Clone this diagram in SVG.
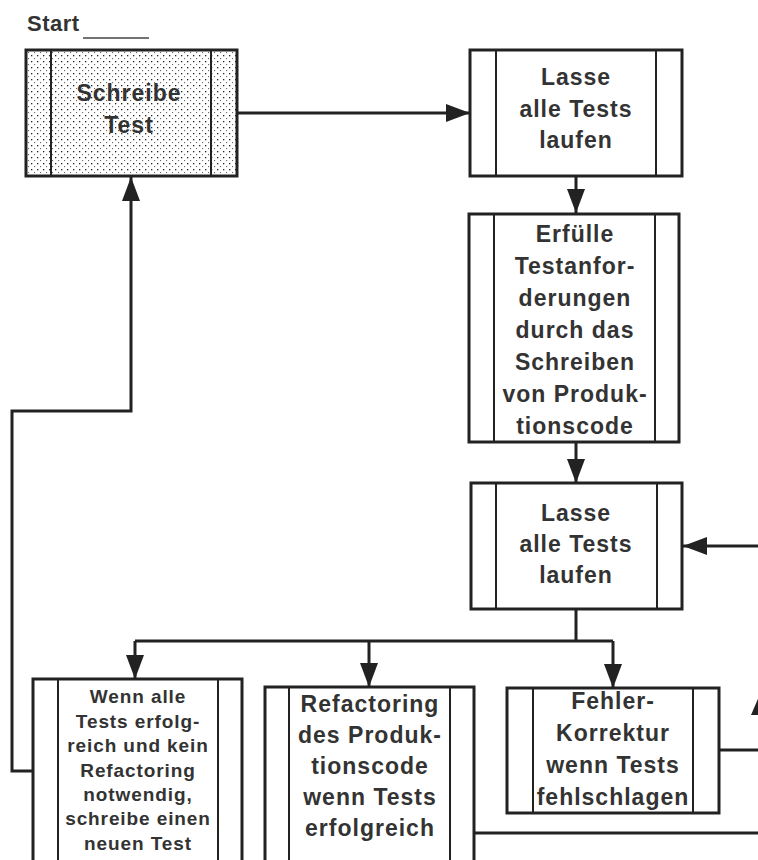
<svg xmlns="http://www.w3.org/2000/svg" width="758" height="860" viewBox="0 0 758 860">
<style>
.box{fill:#fff;stroke:#222;stroke-width:3}
.inner{stroke:#222;stroke-width:2}
.t{font-family:"Liberation Sans",Arial,sans-serif;font-weight:bold;fill:#333;text-anchor:middle;font-size:23px;letter-spacing:1px}
.s{font-size:19px;letter-spacing:0.9px}
.c{fill:none;stroke:#222;stroke-width:3}
</style>
<defs>
<pattern id="dots" width="6" height="6" patternUnits="userSpaceOnUse">
<rect width="6" height="6" fill="#fff"/>
<rect x="1" y="1" width="1.3" height="1.3" fill="#222"/>
<rect x="4" y="4" width="1.1" height="1.1" fill="#666"/>
</pattern>
<marker id="ah" markerUnits="userSpaceOnUse" markerWidth="24" markerHeight="18" refX="24" refY="9" orient="auto">
<path d="M0,0 L24,9 L0,18 z" fill="#222"/>
</marker>
</defs>
<g id="start-label">
<text x="27" y="31" style="font-family:'Liberation Sans',Arial,sans-serif;font-weight:bold;font-size:22px;fill:#333;letter-spacing:0.5px">Start</text>
<line x1="83" y1="38" x2="149" y2="38" stroke="#444" stroke-width="1.5"/>
</g>
<g id="connectors">
<path class="c" d="M237,113 H470" marker-end="url(#ah)"/>
<path class="c" d="M576,176 V213" marker-end="url(#ah)"/>
<path class="c" d="M576,442 V483" marker-end="url(#ah)"/>
<path class="c" d="M760,546 H683" marker-end="url(#ah)"/>
<path class="c" d="M576,609 V641"/>
<path class="c" d="M135,641 H613"/>
<path class="c" d="M135,641 V679" marker-end="url(#ah)"/>
<path class="c" d="M369,641 V687" marker-end="url(#ah)"/>
<path class="c" d="M613,641 V688" marker-end="url(#ah)"/>
<path class="c" d="M33,771 H12 V411 H131 V177" marker-end="url(#ah)"/>
<path class="c" d="M474,833 H760"/>
<path class="c" d="M719,750 H760"/>
<polygon points="751,715 769,715 760,694" fill="#222"/>
</g>
<g id="n1">
<rect class="box" x="26" y="50" width="211" height="126" style="fill:url(#dots)"/>
<line class="inner" x1="51" y1="50" x2="51" y2="176"/>
<line class="inner" x1="211" y1="50" x2="211" y2="176"/>
<text class="t" x="129" y="101">Schreibe</text>
<text class="t" x="129" y="133">Test</text>
</g>
<g id="n2">
<rect class="box" x="470" y="50" width="212" height="126"/>
<line class="inner" x1="496" y1="50" x2="496" y2="176"/>
<line class="inner" x1="656" y1="50" x2="656" y2="176"/>
<text class="t" x="576" y="85">Lasse</text>
<text class="t" x="576" y="117">alle Tests</text>
<text class="t" x="576" y="148">laufen</text>
</g>
<g id="n3">
<rect class="box" x="469" y="214" width="210" height="228"/>
<line class="inner" x1="494" y1="214" x2="494" y2="442"/>
<line class="inner" x1="655" y1="214" x2="655" y2="442"/>
<text class="t" x="575" y="242">Erfülle</text>
<text class="t" x="575" y="274">Testanfor-</text>
<text class="t" x="575" y="306">derungen</text>
<text class="t" x="575" y="338">durch das</text>
<text class="t" x="575" y="370">Schreiben</text>
<text class="t" x="575" y="402">von Produk-</text>
<text class="t" x="575" y="434">tionscode</text>
</g>
<g id="n4">
<rect class="box" x="471" y="483" width="211" height="126"/>
<line class="inner" x1="496" y1="483" x2="496" y2="609"/>
<line class="inner" x1="657" y1="483" x2="657" y2="609"/>
<text class="t" x="576" y="521">Lasse</text>
<text class="t" x="576" y="552">alle Tests</text>
<text class="t" x="576" y="583">laufen</text>
</g>
<g id="n5">
<rect class="box" x="33" y="679" width="209" height="200"/>
<line class="inner" x1="58" y1="679" x2="58" y2="879"/>
<line class="inner" x1="218" y1="679" x2="218" y2="879"/>
<text class="t s" x="138" y="703">Wenn alle</text>
<text class="t s" x="138" y="728">Tests erfolg-</text>
<text class="t s" x="138" y="752">reich und kein</text>
<text class="t s" x="138" y="777">Refactoring</text>
<text class="t s" x="138" y="801">notwendig,</text>
<text class="t s" x="138" y="825">schreibe einen</text>
<text class="t s" x="138" y="850">neuen Test</text>
</g>
<g id="n6">
<rect class="box" x="265" y="687" width="209" height="200"/>
<line class="inner" x1="289" y1="687" x2="289" y2="887"/>
<line class="inner" x1="450" y1="687" x2="450" y2="887"/>
<text class="t" x="370" y="712">Refactoring</text>
<text class="t" x="370" y="743">des Produk-</text>
<text class="t" x="370" y="774">tionscode</text>
<text class="t" x="370" y="805">wenn Tests</text>
<text class="t" x="370" y="836">erfolgreich</text>
</g>
<g id="n7">
<rect class="box" x="507" y="688" width="212" height="125"/>
<line class="inner" x1="533" y1="688" x2="533" y2="813"/>
<line class="inner" x1="693" y1="688" x2="693" y2="813"/>
<text class="t" x="613" y="709">Fehler-</text>
<text class="t" x="613" y="741">Korrektur</text>
<text class="t" x="613" y="773">wenn Tests</text>
<text class="t" x="613" y="805">fehlschlagen</text>
</g>
</svg>
